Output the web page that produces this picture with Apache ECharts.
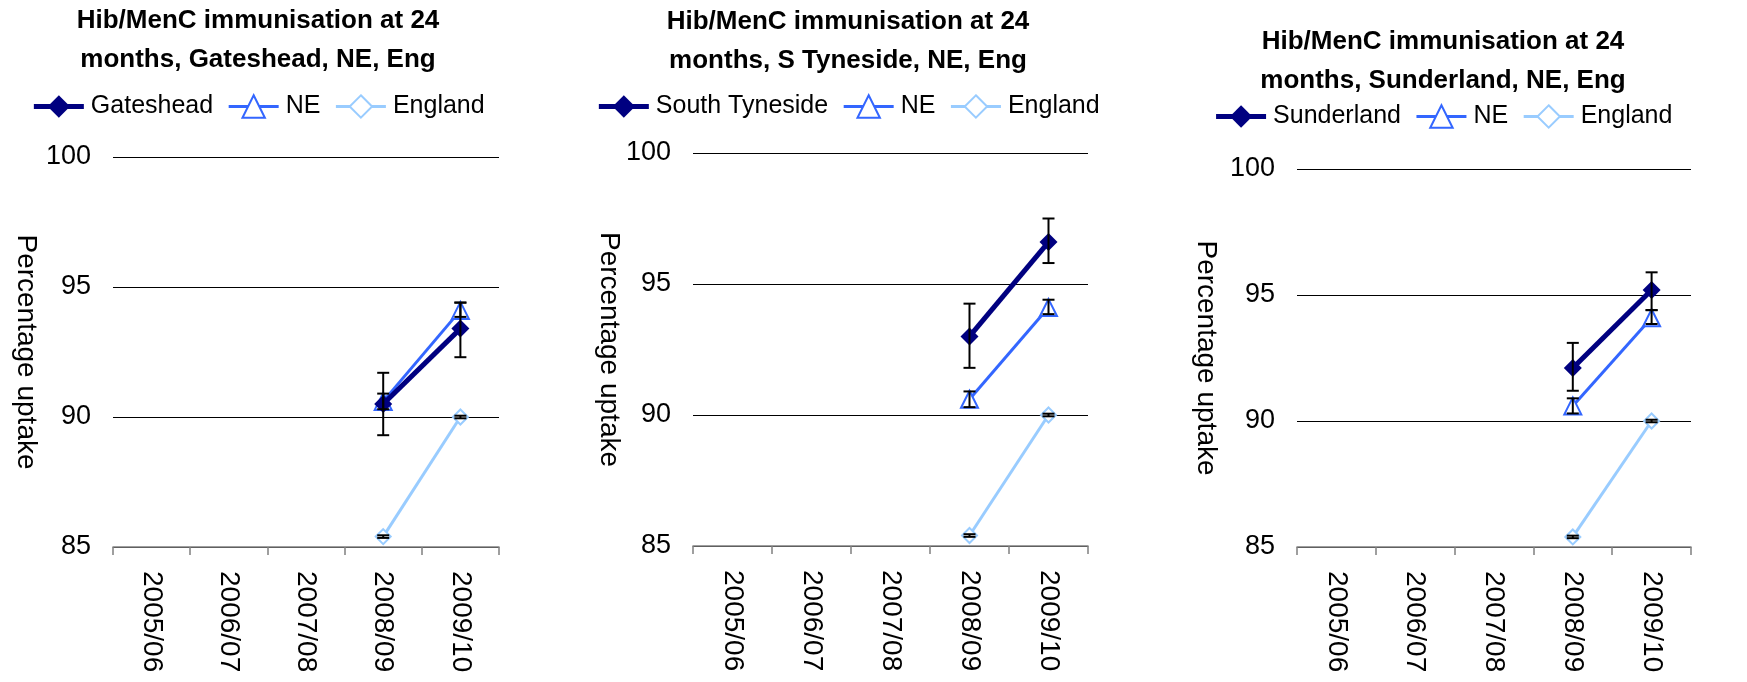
<!DOCTYPE html>
<html>
<head>
<meta charset="utf-8">
<script src="https://cdn.jsdelivr.net/npm/echarts@6/dist/echarts.min.js"></script>
<style>
  html, body { margin: 0; padding: 0; background: #fff; overflow: hidden; }
  .panel { position: absolute; top: 0; width: 560px; height: 682px; }
</style>
</head>
<body>
<div class="panel" id="c1" style="left:-22px"></div>
<div class="panel" id="c2" style="left:568px"></div>
<div class="panel" id="c3" style="left:1163px"></div>
<script>
var years = ['2005/06', '2006/07', '2007/08', '2008/09', '2009/10'];

// North East and England (same on every panel)
var ne = [null, null, null, 90.6, 94.1];
var neLow = [null, null, null, 90.3, 93.85];
var neHigh = [null, null, null, 90.9, 94.4];
var england = [null, null, null, 85.4, 90.0];
var englandLow = [null, null, null, 85.35, 89.95];
var englandHigh = [null, null, null, 85.45, 90.05];

// local areas
var gateshead = [null, null, null, 90.5, 93.4];
var gatesheadLow = [null, null, null, 89.3, 92.3];
var gatesheadHigh = [null, null, null, 91.7, 94.4];

var sTyneside = [null, null, null, 93.0, 96.6];
var sTynesideLow = [null, null, null, 91.8, 95.8];
var sTynesideHigh = [null, null, null, 94.25, 97.5];

var sunderland = [null, null, null, 92.1, 95.2];
var sunderlandLow = [null, null, null, 91.2, 94.4];
var sunderlandHigh = [null, null, null, 93.1, 95.9];

var FONT = '"Liberation Sans", Arial, sans-serif';
var LOCAL = '#000080', NE_COL = '#3366ff', ENG_COL = '#99ccff';

function errData(low, high) {
  var out = [];
  for (var i = 0; i < low.length; i++) {
    if (low[i] == null) continue;
    out.push([i, low[i], high[i]]);
  }
  return out;
}

function errSeries(low, high) {
  return {
    type: 'custom',
    z: 5,
    silent: true,
    data: errData(low, high),
    renderItem: function (params, api) {
      var top = api.coord([api.value(0), api.value(2)]);
      var bot = api.coord([api.value(0), api.value(1)]);
      var hw = 6;
      var st = { stroke: '#000', lineWidth: 2 };
      return {
        type: 'group',
        children: [
          { type: 'line', shape: { x1: top[0], y1: top[1], x2: bot[0], y2: bot[1] }, style: st },
          { type: 'line', shape: { x1: top[0] - hw, y1: top[1], x2: top[0] + hw, y2: top[1] }, style: st },
          { type: 'line', shape: { x1: bot[0] - hw, y1: bot[1], x2: bot[0] + hw, y2: bot[1] }, style: st }
        ]
      };
    }
  };
}

function makePanel(id, cfg) {
  var chart = echarts.init(document.getElementById(id));
  chart.setOption({
    animation: false,
    title: {
      text: cfg.title,
      left: 'center',
      top: cfg.titleTop,
      padding: 0,
      textStyle: { fontFamily: FONT, fontSize: 26, fontWeight: 'bold', color: '#000', lineHeight: 39 }
    },
    legend: {
      left: 'center',
      top: cfg.legendTop,
      padding: 0,
      itemWidth: 50,
      itemHeight: 28,
      itemGap: 14,
      data: [
        { name: cfg.name, lineStyle: { width: 5 } },
        { name: 'NE', lineStyle: { width: 3 } },
        { name: 'England', lineStyle: { width: 3 } }
      ],
      textStyle: { fontFamily: FONT, fontSize: 25, color: '#000', padding: [0, 0, 0, 2] }
    },
    grid: { left: cfg.gridLeft, top: cfg.gridTop, width: cfg.gridWidth, height: cfg.gridHeight },
    xAxis: {
      type: 'category',
      data: years,
      boundaryGap: true,
      axisLine: { lineStyle: { color: '#808080', width: 1.5 } },
      axisTick: { show: true, length: 8, lineStyle: { color: '#808080', width: 1.5 } },
      axisLabel: { rotate: -90, margin: 24, fontFamily: FONT, fontSize: 28, color: '#000' },
      splitLine: { show: false }
    },
    yAxis: {
      type: 'value',
      min: 85,
      max: 100,
      interval: 5,
      name: 'Percentage uptake',
      nameLocation: 'middle',
      nameRotate: -90,
      nameGap: cfg.nameGap,
      nameMoveOverlap: false,
      nameTextStyle: { fontFamily: FONT, fontSize: 28, color: '#000' },
      axisLine: { show: false },
      axisTick: { show: false },
      axisLabel: { margin: 22, fontFamily: FONT, fontSize: 27, color: '#000' },
      splitLine: { lineStyle: { color: '#000', width: 1 } }
    },
    series: [
      {
        name: 'England',
        type: 'line',
        data: england,
        symbol: 'emptyDiamond',
        symbolSize: 15,
        z: 2,
        lineStyle: { color: ENG_COL, width: 3 },
        itemStyle: { color: ENG_COL, borderWidth: 2 }
      },
      {
        name: 'NE',
        type: 'line',
        data: ne,
        symbol: 'emptyTriangle',
        symbolSize: 17,
        z: 3,
        lineStyle: { color: NE_COL, width: 3 },
        itemStyle: { color: NE_COL, borderWidth: 2 }
      },
      {
        name: cfg.name,
        type: 'line',
        data: cfg.values,
        symbol: 'diamond',
        symbolSize: 18,
        z: 4,
        lineStyle: { color: LOCAL, width: 5 },
        itemStyle: { color: LOCAL }
      },
      errSeries(englandLow, englandHigh),
      errSeries(neLow, neHigh),
      errSeries(cfg.low, cfg.high)
    ]
  });
}

makePanel('c1', {
  title: 'Hib/MenC immunisation at 24\nmonths, Gateshead, NE, Eng',
  name: 'Gateshead', values: gateshead, low: gatesheadLow, high: gatesheadHigh,
  titleTop: 1, legendTop: 94,
  gridLeft: 135, gridTop: 157, gridWidth: 386, gridHeight: 390, nameGap: 73
});
makePanel('c2', {
  title: 'Hib/MenC immunisation at 24\nmonths, S Tyneside, NE, Eng',
  name: 'South Tyneside', values: sTyneside, low: sTynesideLow, high: sTynesideHigh,
  titleTop: 2, legendTop: 94,
  gridLeft: 125, gridTop: 153, gridWidth: 395, gridHeight: 393, nameGap: 70
});
makePanel('c3', {
  title: 'Hib/MenC immunisation at 24\nmonths, Sunderland, NE, Eng',
  name: 'Sunderland', values: sunderland, low: sunderlandLow, high: sunderlandHigh,
  titleTop: 22, legendTop: 104,
  gridLeft: 134, gridTop: 169, gridWidth: 394, gridHeight: 378, nameGap: 77
});
</script>
</body>
</html>
